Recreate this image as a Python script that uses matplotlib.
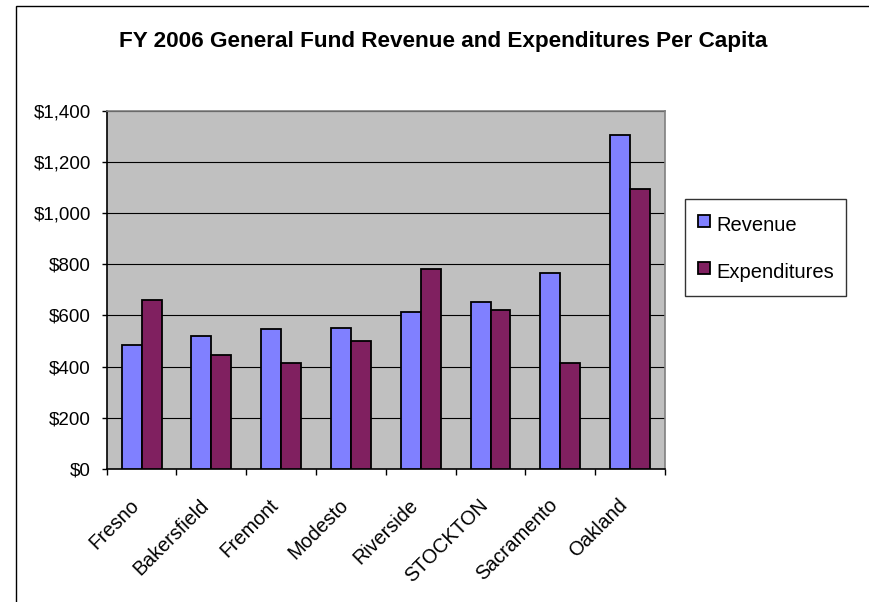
import matplotlib
matplotlib.use("Agg")
import matplotlib.pyplot as plt
import numpy as np
from matplotlib.patches import Rectangle
from matplotlib.lines import Line2D
from matplotlib.ticker import FuncFormatter, MultipleLocator, FixedLocator
from matplotlib.transforms import ScaledTranslation

plt.rcParams['font.family'] = ['Liberation Sans', 'DejaVu Sans']

cities = ["Fresno", "Bakersfield", "Fremont", "Modesto", "Riverside",
          "STOCKTON", "Sacramento", "Oakland"]
revenue = [483, 518, 547, 549, 615, 651, 764, 1307]
expenditures = [660, 445, 413, 501, 780, 620, 413, 1096]
series_names = ["Revenue", "Expenditures"]
series_colors = ["#8080FF", "#802060"]
title = "FY 2006 General Fund Revenue and Expenditures Per Capita"

W, H = 869, 602
fig = plt.figure(figsize=(W / 100, H / 100), dpi=100)
fig.patch.set_facecolor("white")

# chart-area border (runs off the right and bottom edges)
fig.patches.append(Rectangle((16 / W, -0.5), 2.0, (H - 6) / H + 0.5,
                             transform=fig.transFigure, fill=False,
                             edgecolor="black", linewidth=1.0, zorder=0))

ax = fig.add_axes([106.7 / W, 1 - 469 / H, (665 - 106.7) / W, (469 - 110.7) / H])
ax.set_facecolor("#C0C0C0")

x = np.arange(len(cities))
bw = 1 / 3.5
ax.bar(x - bw / 2, revenue, bw, color=series_colors[0], edgecolor="black",
       linewidth=1.3, zorder=3)
ax.bar(x + bw / 2, expenditures, bw, color=series_colors[1], edgecolor="black",
       linewidth=1.3, zorder=3)

ax.set_xlim(-0.5, len(cities) - 0.5)
ax.set_ylim(0, 1400)
ax.yaxis.set_major_locator(MultipleLocator(200))
ax.yaxis.set_major_formatter(FuncFormatter(lambda v, p: f"${v:,.0f}"))
ax.grid(axis="y", color="black", linewidth=0.8, zorder=1)
ax.set_axisbelow(True)

# category labels at centers, tick marks at category boundaries
ax.xaxis.set_major_locator(FixedLocator(x))
ax.set_xticklabels(cities, rotation=45, ha="right", rotation_mode="anchor")
ax.xaxis.set_minor_locator(FixedLocator(np.arange(len(cities) + 1) - 0.5))
ax.tick_params(axis="x", which="major", length=0, pad=14, labelsize=14.2)
ax.tick_params(axis="x", which="minor", length=4.3, width=1, color="black",
               direction="out")
ax.tick_params(axis="y", length=3.6, width=1, color="black", direction="out",
               pad=7.7, labelsize=13.5)
shift = ScaledTranslation(-12 / 100, -7 / 100, fig.dpi_scale_trans)
for lbl in ax.get_xticklabels():
    lbl.set_transform(lbl.get_transform() + shift)

for side in ("left", "bottom"):
    ax.spines[side].set_color("black")
    ax.spines[side].set_linewidth(1.2)
for side in ("right", "top"):
    ax.spines[side].set_color("#808080")
    ax.spines[side].set_linewidth(1.2)

fig.text(443.5 / W, 1 - 41 / H, title, ha="center", va="center",
         fontsize=16.2, fontweight="bold")

handles = [Line2D([], [], linestyle="none", marker="s", markersize=9.1,
                  markerfacecolor=c, markeredgecolor="black", markeredgewidth=1.3)
           for c in series_colors]
leg = fig.legend(handles, series_names, loc="upper left",
                 bbox_to_anchor=(685 / W, 1 - 199 / H), fontsize=14.5,
                 frameon=True, fancybox=False, edgecolor="black",
                 borderpad=0.6, labelspacing=1.05, handlelength=0.64,
                 handleheight=1.6, handletextpad=0.3, borderaxespad=0)
leg.get_frame().set_linewidth(1.0)

fig.savefig("out.png", dpi=100)
